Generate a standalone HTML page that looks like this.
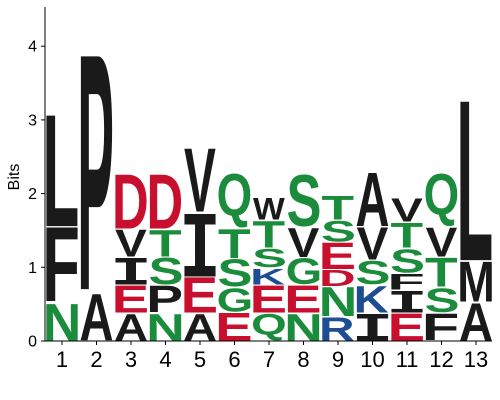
<!DOCTYPE html>
<html><head><meta charset="utf-8"><style>
body{margin:0;background:#fff;}
svg{display:block;font-family:"Liberation Sans",Arial,sans-serif;}
</style></head><body>
<svg id="c" width="500" height="400"></svg>
<script>
const positions = ["1","2","3","4","5","6","7","8","9","10","11","12","13"];
const letters = [
 ["N","F","L"],
 ["A","P"],
 ["A","E","I","V","D"],
 ["N","P","S","T","D"],
 ["A","E","I","V"],
 ["E","G","S","T","Q"],
 ["Q","E","K","S","T","W"],
 ["N","E","G","V","S"],
 ["R","N","D","E","S","T"],
 ["I","K","S","V","A"],
 ["E","I","F","S","T","V"],
 ["F","S","T","V","Q"],
 ["A","M","L"]
];
const bits = [
 [0.52,1.03,1.52],
 [0.65,3.23],
 [0.38,0.38,0.38,0.38,0.75],
 [0.38,0.38,0.38,0.38,0.75],
 [0.38,0.49,0.88,0.87],
 [0.39,0.34,0.39,0.41,0.75],
 [0.38,0.38,0.23,0.27,0.38,0.31],
 [0.38,0.38,0.37,0.41,0.72],
 [0.33,0.41,0.23,0.37,0.3,0.34],
 [0.38,0.38,0.34,0.45,0.75],
 [0.38,0.31,0.23,0.34,0.35,0.33],
 [0.38,0.35,0.41,0.41,0.73],
 [0.53,0.56,2.17]
];
const yTicks = [0,1,2,3,4];
const colors = {G:"#1b8c3c",S:"#1b8c3c",T:"#1b8c3c",N:"#1b8c3c",Q:"#1b8c3c",Y:"#1b8c3c",C:"#1b8c3c",
 D:"#c8102e",E:"#c8102e",K:"#1f4d94",R:"#1f4d94",H:"#1f4d94"};
const NS="http://www.w3.org/2000/svg";
const svg=document.getElementById('c');
const y0=341, pxPerBit=73.7, x1=62, step=34.5, colW=32;
const yS=v=>y0-v*pxPerBit;
const xS=i=>x1+i*step;
function mk(t,a,p){const e=document.createElementNS(NS,t);for(const k in a)e.setAttribute(k,a[k]);(p||svg).appendChild(e);return e;}
const ctx=document.createElement('canvas').getContext('2d');
function fontFor(L){return L==='I'?'"Liberation Mono", monospace':'"Liberation Sans", Arial, sans-serif';}
function measure(L){
  ctx.font='bold 100px '+fontFor(L);
  const m=ctx.measureText(L);
  let a=m.actualBoundingBoxAscent, d=m.actualBoundingBoxDescent, l=m.actualBoundingBoxLeft, r=m.actualBoundingBoxRight;
  if(!(a>0)){a=70;d=L==='Q'?6:0;l=-5;r=m.width-5;}
  return {a,d,l,r};
}
letters.forEach((col,i)=>{
  const g=mk('g',{});
  
  
  let acc=0;
  col.forEach((L,j)=>{
    const b=bits[i][j];
    const top=yS(acc+b), bot=yS(acc);
    const h=Math.max(bot-top-1.2,1);
    const m=measure(L);
    const gw=m.l+m.r, gh=m.a+m.d;
    const sx=colW/gw, sy=h/gh;
    const gg=mk('g',{transform:`translate(${xS(i)-colW/2},${bot-0.6}) scale(${sx},${sy}) translate(${m.l},${-m.d})`},g);
    const t=mk('text',{x:0,y:0,'font-size':100,'font-weight':'bold','font-family':fontFor(L),fill:colors[L]||'#1a1a1a'},gg);
    t.textContent=L;
    
    
    acc+=b;
  });
});
const ya=mk('line',{x1:45,y1:7,x2:45,y2:y0,stroke:'#000','stroke-width':1});


const xa=mk('line',{x1:45,y1:y0,x2:492,y2:y0,stroke:'#000','stroke-width':1});


yTicks.forEach(v=>{
  mk('line',{x1:41,y1:yS(v),x2:45,y2:yS(v),stroke:'#000'});
  const t=mk('text',{x:37,y:yS(v)+5.5,'font-size':16,'text-anchor':'end',fill:'#000'});
  t.textContent=v;
  
  
});
positions.forEach((p,i)=>{
  mk('line',{x1:xS(i),y1:y0,x2:xS(i),y2:y0+4,stroke:'#000'});
  const t=mk('text',{x:xS(i),y:367,'font-size':22,'text-anchor':'middle',fill:'#000'});
  t.textContent=p;
  
  
});
const yt=mk('text',{x:0,y:0,'font-size':16,'text-anchor':'middle',fill:'#000',transform:'translate(19,177) rotate(-90)'});
yt.textContent='Bits';


</script>
</body></html>
